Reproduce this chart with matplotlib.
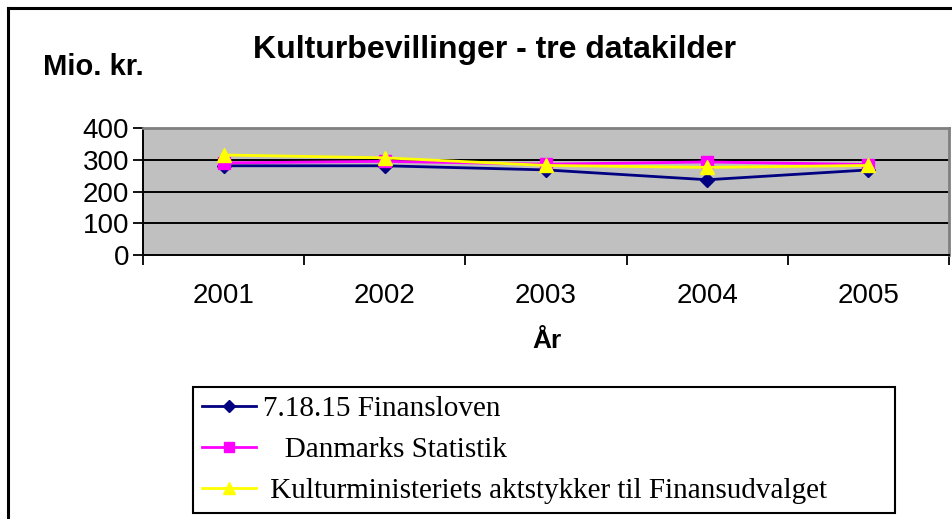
import matplotlib
matplotlib.use("Agg")
import matplotlib.pyplot as plt
from matplotlib.lines import Line2D

years = ["2001", "2002", "2003", "2004", "2005"]
finansloven = [281, 281, 268, 237, 268]
danmarks_statistik = [290, 295, 286, 293, 285]
kulturministeriet = [315, 306, 282, 276, 282]
labels = ["7.18.15 Finansloven", "   Danmarks Statistik", " Kulturministeriets aktstykker til Finansudvalget"]
yticks = [0, 100, 200, 300, 400]

W, H = 953, 519
fig = plt.figure(figsize=(W / 100, H / 100), dpi=100)
fig.patch.set_facecolor("white")

# outer chart border
fig.add_artist(Line2D([8 / W, 1.0], [1 - 7.5 / H, 1 - 7.5 / H], color="black", lw=2.2, transform=fig.transFigure))
fig.add_artist(Line2D([8.5 / W, 8.5 / W], [0, 1 - 7.5 / H], color="black", lw=2.2, transform=fig.transFigure))

ax = fig.add_axes([143 / W, 1 - 255 / H, (949 - 143) / W, 127 / H])
ax.set_facecolor("#c0c0c0")
x = list(range(len(years)))

ax.plot(x, finansloven, color="#000080", lw=2, marker="D", markersize=7, label=labels[0], zorder=3)
ax.plot(x, danmarks_statistik, color="#ff00ff", lw=2, marker="s", markersize=8, label=labels[1], zorder=4)
ax.plot(x, kulturministeriet, color="#ffff00", lw=2, marker="^", markersize=10, label=labels[2], zorder=5)

ax.set_ylim(0, 400)
ax.set_xlim(-0.5, len(years) - 0.5)
ax.set_yticks(yticks)
ax.set_yticklabels([str(v) for v in yticks])
for v in yticks[1:-1]:
    ax.axhline(v, color="black", lw=1.4, zorder=1)

ax.set_xticks(x)
ax.set_xticklabels(years)
ax.set_xticks([i - 0.5 for i in range(len(years) + 1)], minor=True)
ax.tick_params(axis="x", which="major", length=0, pad=20, labelsize=20)
ax.tick_params(axis="x", which="minor", length=7, width=1.3, direction="out")
ax.tick_params(axis="y", length=7, width=1.3, direction="out", pad=3, labelsize=20)
for lab in ax.get_xticklabels() + ax.get_yticklabels():
    lab.set_family("Liberation Sans")

for s in ["top", "right"]:
    ax.spines[s].set_color("#808080")
    ax.spines[s].set_linewidth(2)
for s in ["left", "bottom"]:
    ax.spines[s].set_color("black")
    ax.spines[s].set_linewidth(1.4)

fig.text(495 / W, 1 - 50 / H, "Kulturbevillinger - tre datakilder", ha="center", va="center",
         fontsize=23, fontweight="bold", family="Liberation Sans")
fig.text(43 / W, 1 - 67 / H, "Mio. kr.", ha="left", va="center",
         fontsize=21, fontweight="bold", family="Liberation Sans")
fig.text(547 / W, 1 - 341 / H, "År", ha="center", va="center",
         fontsize=19, fontweight="bold", family="Liberation Sans")

handles, labs = ax.get_legend_handles_labels()
leg = fig.legend(handles, labs, loc="upper left",
                 bbox_to_anchor=(193 / W, 0, (895 - 193) / W, 1 - 387 / H),
                 mode="expand", borderaxespad=0, frameon=True, fancybox=False,
                 prop={"family": "Liberation Serif", "size": 21},
                 handlelength=1.86, handletextpad=0.24, labelspacing=0.5, borderpad=0.3,
                 markerscale=0.9)
leg.get_frame().set_edgecolor("black")
leg.get_frame().set_linewidth(1.5)
leg.get_frame().set_alpha(1)

fig.savefig("out.png", dpi=100)
